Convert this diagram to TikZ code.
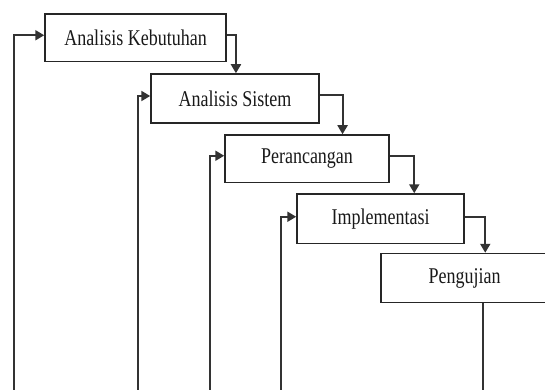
\documentclass[tikz,border=0pt]{standalone}
\usepackage{fontspec}
\setmainfont{Liberation Serif}
\usetikzlibrary{arrows.meta}
\newcommand{\boxtext}[1]{\scalebox{0.8}[1]{\fontsize{22.5}{26}\selectfont #1}}
\begin{document}
\begin{tikzpicture}[x=1pt,y=-1pt,
  stagebox/.style={draw=black!85, line width=1.5pt, fill=white, inner sep=0pt, text=black!90},
  conn/.style={draw=black!80, line width=2pt},
  arr/.style={conn, -{Triangle[length=9pt,width=10pt]}}]
\useasboundingbox (0,0) rectangle (545,390);
\clip (0,0) rectangle (545,390);
\node[stagebox, minimum width=181pt, minimum height=47.5pt] (b1) at (135.5,37.75) {\boxtext{Analisis Kebutuhan}};
\node[stagebox, minimum width=168pt, minimum height=49pt] (b2) at (235,98.5) {\boxtext{Analisis Sistem}};
\node[stagebox, minimum width=164pt, minimum height=47.5pt] (b3) at (307,158.75) {\boxtext{Perancangan}};
\node[stagebox, minimum width=167pt, minimum height=49.5pt] (b4) at (380.5,218.75) {\boxtext{Implementasi}};
\node[stagebox, minimum width=167pt, minimum height=49pt] (b5) at (464.5,278) {\boxtext{Pengujian}};
% forward connectors
\draw[arr] ([yshift=2.5pt]b1.east) -| ([xshift=85.7pt]b2.north west);
\draw[arr] ([yshift=3pt]b2.east) -| ([xshift=118.3pt]b3.north west);
\draw[arr] ([yshift=2.5pt]b3.east) -| ([xshift=118pt]b4.north west);
\draw[arr] ([yshift=2pt]b4.east) -| ([xshift=105pt]b5.north west);
% feedback lines
\coordinate (f1) at (14,390);
\coordinate (f2) at (137.8,390);
\coordinate (f3) at (210,390);
\coordinate (f4) at (281,390);
\coordinate (e5) at (483,390);
\draw[arr] (f1) |- ([yshift=2.5pt]b1.west);
\draw[arr] (f2) |- ([yshift=2.5pt]b2.west);
\draw[arr] (f3) |- ([yshift=3pt]b3.west);
\draw[arr] (f4) |- ([yshift=2pt]b4.west);
\draw[conn] (e5 |- b5.south) -- (e5);
\end{tikzpicture}
\end{document}
